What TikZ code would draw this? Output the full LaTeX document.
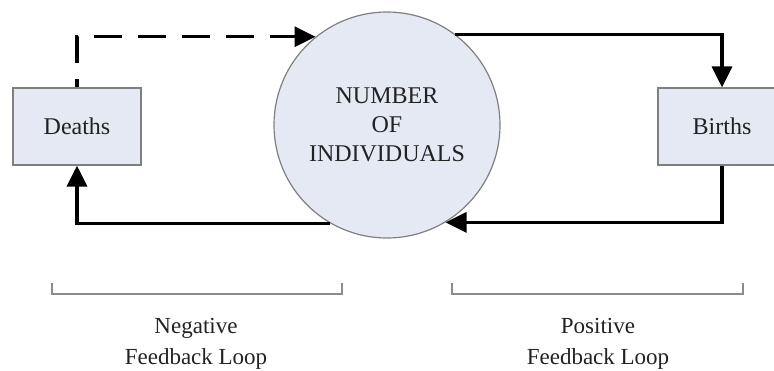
\documentclass[tikz,border=0pt]{standalone}
\usepackage{fontspec}
\setmainfont{Liberation Serif}
\usetikzlibrary{arrows.meta}

\definecolor{boxfill}{HTML}{E5E9F3}
\definecolor{boxline}{HTML}{7F7F7F}
\definecolor{txt}{HTML}{222222}
\definecolor{brace}{HTML}{8C8C8C}

\tikzset{
  stockbox/.style={draw=boxline, line width=1.2pt, fill=boxfill, minimum width=128pt,
    minimum height=77pt, inner sep=0pt, text=txt, font=\fontsize{24}{29}\selectfont},
  stock/.style={circle, draw=boxline, line width=1.2pt, fill=boxfill, minimum size=226pt,
    inner sep=0pt, align=center, text=txt, font=\fontsize{24}{29}\selectfont},
  flow/.style={line width=3.3pt, -{Triangle[length=21pt,width=20pt]}},
  influence/.style={flow, dash pattern=on 28pt off 16pt, dash phase=20pt},
  bracket/.style={draw=brace, line width=1.5pt},
  loop label/.style={align=center, text=txt, font=\fontsize{23}{31}\selectfont},
}

\begin{document}
\begin{tikzpicture}[x=1pt, y=-1pt]
  \useasboundingbox (0,0) rectangle (774,370);
  \clip (0,0) rectangle (774,370);

  % population stock and its two rates
  \node[stock] (pop) at (387,125) {NUMBER\\OF\\INDIVIDUALS};
  \node[stockbox] (deaths) at (77,126.5) {Deaths};
  \node[stockbox] (births) at (722,126.5) {Births};

  % positive loop: population drives births, births add to population
  \draw[flow] (pop.53.5) -| (births.north);
  \draw[flow] (births.south) |- (pop.-59.5);

  % negative loop: deaths remove individuals, population drives deaths
  \draw[flow] (pop.-120.5) -| (deaths.south);
  \draw[influence] (deaths.north) |- (pop.129.7);

  % loop brackets
  \draw[bracket] (52,283) -- (52,294) -- (342,294) -- (342,283);
  \draw[bracket] (452,283) -- (452,294) -- (743,294) -- (743,283);

  \node[loop label] (neg) at (196,344) {Negative\\Feedback Loop};
  \node[loop label] (posl) at (598,344) {Positive\\Feedback Loop};
\end{tikzpicture}
\end{document}
